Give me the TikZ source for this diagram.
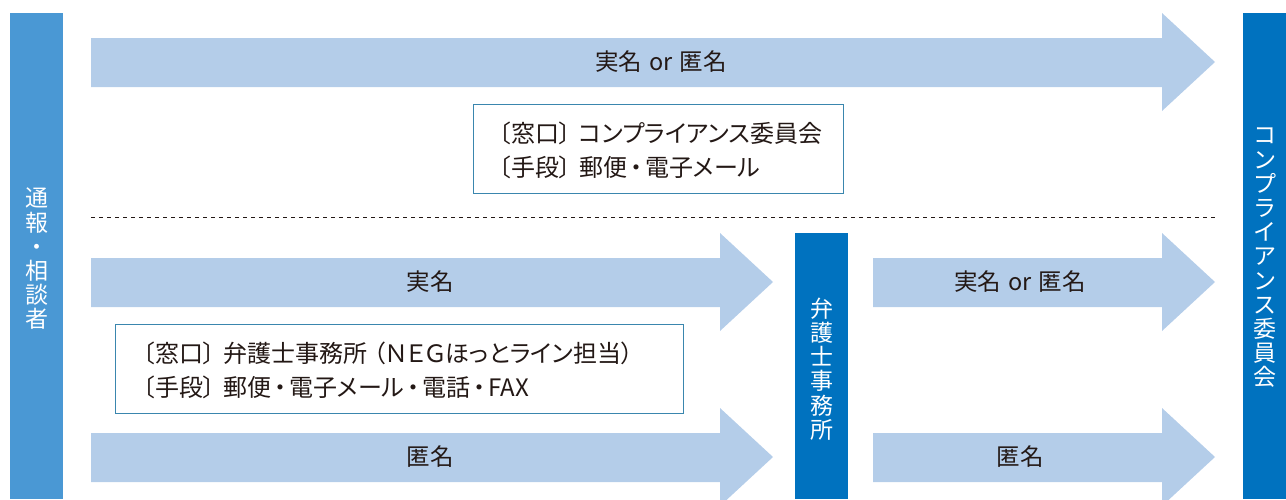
\documentclass[tikz,border=0pt]{standalone}
\usepackage{fontspec}
\setmainfont{Noto Sans CJK JP}
\newfontfamily\pfont[RawFeature=+palt]{Noto Sans CJK JP}
\newcommand{\ndot}{\hspace{3pt}・\hspace{3pt}}
\begin{document}
\begin{tikzpicture}[x=1pt,y=-1pt,
  arrowfill/.style={fill=arrowblue,draw=none},
  lbl/.style={text=txt,font=\fontsize{23.5}{25}\selectfont,inner sep=0pt},
  boxtext/.style={text=txt,font=\pfont\fontsize{24}{30}\selectfont,align=left,anchor=west,inner sep=0pt},
  vtext/.style={text=white,font=\fontsize{23}{24.2}\selectfont,align=center,inner sep=0pt}]
\definecolor{arrowblue}{HTML}{B4CDE9}
\definecolor{lightbar}{HTML}{4A98D4}
\definecolor{darkbar}{HTML}{0072BF}
\definecolor{boxline}{HTML}{3A86AE}
\definecolor{txt}{HTML}{231815}
\useasboundingbox (0,0) rectangle (1286,499);
% bars
\fill[lightbar] (10,13) rectangle (63,499);
\fill[darkbar] (1243,13) rectangle (1286,499);
\fill[darkbar] (795,233) rectangle (848,499);
\node[vtext] (reporter) at (36.5,259) {通\\報\\・\\相\\談\\者};
\node[vtext] (committee) at (1264.5,258) {コ\\ン\\プ\\ラ\\イ\\ア\\ン\\ス\\委\\員\\会};
\node[vtext] (lawfirm) at (821.5,369) {弁\\護\\士\\事\\務\\所};
% top arrow
\fill[arrowfill] (91,38) -- (1162,38) -- (1162,13) -- (1215,62) -- (1162,111) -- (1162,87) -- (91,87) -- cycle;
\node[lbl] (a1) at (661,62) {実名\hspace{7pt}or\hspace{7pt}匿名};
% info box 1
\draw[boxline,line width=1pt] (473.5,104.5) rectangle (843.5,193.5);
\node[boxtext] (b1a) at (499,133) {〔窓口〕\hspace{8pt}コンプライアンス委員会};
\node[boxtext] (b1b) at (499,167.5) {〔手段〕\hspace{8pt}郵便\ndot 電子メール};
% dashed separator
\coordinate (dl) at (91,217);
\coordinate (dr) at (1215,217);
\draw[txt,line width=0.8pt,dash pattern=on 4pt off 4pt] (dl) -- (dr);
% lower-left arrows
\fill[arrowfill] (91,258) -- (720,258) -- (720,233) -- (773,282) -- (720,331) -- (720,307) -- (91,307) -- cycle;
\node[lbl] (a2) at (430,282) {実名};
\fill[arrowfill] (91,433) -- (720,433) -- (720,408) -- (773,457) -- (720,506) -- (720,482) -- (91,482) -- cycle;
\node[lbl] (a3) at (430,457) {匿名};
% lower-right arrows
\fill[arrowfill] (873,258) -- (1162,258) -- (1162,233) -- (1215,282) -- (1162,331) -- (1162,307) -- (873,307) -- cycle;
\node[lbl] (a4) at (1020,282) {実名\hspace{7pt}or\hspace{7pt}匿名};
\fill[arrowfill] (873,433) -- (1162,433) -- (1162,408) -- (1215,457) -- (1162,506) -- (1162,482) -- (873,482) -- cycle;
\node[lbl] (a5) at (1020,457) {匿名};
% info box 2
\draw[boxline,line width=1pt] (115.5,324.5) rectangle (683.5,413.5);
\node[boxtext] (b2a) at (143,353) {〔窓口〕\hspace{8pt}弁護士事務所\hspace{6pt}（ＮＥＧほっとライン担当）};
\node[boxtext] (b2b) at (143,387.5) {〔手段〕\hspace{8pt}郵便\ndot 電子メール\ndot 電話\ndot FAX};
\end{tikzpicture}
\end{document}
